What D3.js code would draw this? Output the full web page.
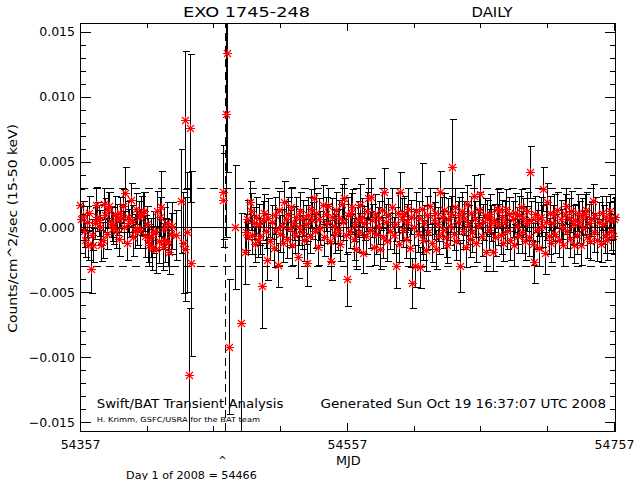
<!DOCTYPE html>
<html><head><meta charset="utf-8">
<script src="https://cdn.jsdelivr.net/npm/d3@7"></script>
<style>body{margin:0;background:#fff}svg{display:block}text{font-family:"DejaVu Sans";fill:#000}</style>
</head><body><svg id="c" width="640" height="480"></svg>
<script>
// ---- data: daily Swift/BAT rates (MJD, counts/cm^2/sec, 1-sigma error) ----
const mjd = [
54357,54358,54359,54360,54361,54362,54363,54364,54365,54366,
54367,54368,54369,54370,54371,54372,54373,54374,54375,54376,
54377,54378,54379,54380,54381,54382,54383,54384,54385,54386,
54387,54388,54389,54390,54391,54392,54393,54394,54395,54396,
54397,54398,54399,54400,54401,54402,54403,54404,54405,54406,
54407,54408,54409,54410,54411,54412,54413,54414,54415,54416,
54417,54418,54419,54420,54421,54422,54423,54424,54425,54426,
54429,
54433.0,54434.4,54435.5,54435.9,54437.2,54438.5,54439.2,54440.5,
54464.0,54464.4,54466.0,54467.3,54468.5,54473.0,54477.5,54480.5,
54481,54482,54483,54484,54485,54486,54487,54488,54489,54490,
54491,54492,54493,54494,54495,54496,54497,54498,54499,
54501,54502,54503,54504,54505,54506,54507,54508,54509,54510,
54511,54512,54513,54514,54515,54516,54517,54518,54519,54520,
54521,54522,54523,54524,54525,54526,54527,54528,54529,54530,
54531,54532,54533,54534,54535,54536,54537,54539,54540,
54541,54542,54543,54544,54545,54546,54547,54548,54549,54550,
54551,54552,54553,54554,54555,54556,54557,54558,54559,54560,
54561,54562,54563,54564,54565,54566,54567,54568,54569,54570,
54571,54572,54573,54574,54575,54576,54577,54578,54579,54580,
54581,54582,54583,54584,54585,54586,54587,54588,54589,
54591,54592,54593,54594,54595,54596,54597,54598,54599,54600,
54601,54602,54603,54604,54605,54606,54607,54608,54609,54610,
54611,54612,54613,54614,54615,54616,54617,54618,54619,
54621,54622,54623,54624,54625,54626,54627,54628,54629,54630,
54631,54632,54633,54634,54635,54636,54637,54638,54639,54640,
54641,54642,54643,54644,54645,54646,54647,54648,54649,54650,
54651,54652,54653,54654,54655,54656,54657,54658,54659,54660,
54661,54662,54663,54664,54665,54666,54667,54668,54669,54670,
54671,54672,54673,54674,54675,54676,54677,54678,54679,
54681,54682,54683,54684,54685,54686,54687,54688,54689,54690,
54691,54692,54693,54694,54695,54696,54697,54698,54699,54700,
54701,54702,54703,54704,54705,54706,54707,54708,54709,54710,
54711,54712,54713,54714,54716,54717,54718,54719,54720,
54721,54722,54723,54724,54725,54726,54727,54728,54729,54730,
54731,54732,54733,54734,54735,54736,54737,54738,54739,54740,
54741,54742,54743,54744,54746,54747,54748,54749,54750,
54751,54752,54753,54754,54755,54756,54757,54758
];
const rate = [
0.0017,0.0006,0.0009,-0.0003,-0.0010,0.0004,-0.0014,0.0011,-0.0032,-0.0006,
-0.0014,0.0003,0.0017,0.0008,0.0005,0.0000,-0.0014,-0.0010,0.0018,0.0009,
-0.0005,0.0013,0.0016,0.0004,0.0002,-0.0001,0.0010,-0.0003,0.0006,-0.0009,
0.0011,0.0007,0.0016,0.0000,0.0026,-0.0012,0.0008,0.0003,0.0021,0.0005,
-0.0008,-0.0003,0.0014,-0.0001,0.0008,-0.0002,0.0009,0.0011,0.0012,-0.0007,
0.0002,-0.0010,-0.0014,-0.0008,-0.0016,-0.0004,-0.0003,-0.0017,0.0012,-0.0011,
0.0008,0.0015,-0.0015,-0.0001,-0.0010,0.0003,-0.0012,-0.0019,-0.0005,0.0001,
-0.0006,
0.0020,-0.0012,0.0082,-0.0017,-0.0004,-0.0114,0.0076,-0.0028,
0.0027,0.0021,0.0087,0.0134,-0.0092,0.0000,-0.0074,-0.0019,
-0.0004,0.0006,-0.0008,0.0019,0.0012,-0.0006,0.0003,-0.0013,0.0008,-0.0010,
0.0002,-0.0007,-0.0045,0.0005,0.0011,-0.0003,-0.0025,0.0007,-0.0011,
0.0004,-0.0016,0.0009,-0.0002,-0.0029,0.0013,-0.0005,0.0001,-0.0012,0.0019,
0.0006,-0.0009,0.0010,-0.0001,0.0015,-0.0014,0.0003,-0.0006,0.0008,-0.0023,
0.0000,0.0012,-0.0004,0.0007,-0.0010,0.0002,-0.0028,0.0009,-0.0007,0.0014,
0.0005,0.0022,-0.0003,0.0011,-0.0015,0.0006,-0.0001,0.0017,-0.0008,
0.0010,0.0003,0.0016,-0.0011,-0.0026,0.0008,0.0001,-0.0005,0.0013,-0.0002,
0.0007,-0.0013,0.0018,0.0004,0.0022,-0.0006,-0.0040,0.0009,-0.0003,0.0011,
0.0015,-0.0009,0.0002,-0.0017,0.0006,-0.0004,0.0017,0.0008,-0.0020,0.0003,
-0.0007,0.0012,0.0022,-0.0002,0.0023,0.0005,-0.0015,0.0010,-0.0005,0.0001,
0.0007,-0.0017,0.0013,-0.0008,0.0027,0.0004,-0.0011,0.0009,-0.0003,
0.0015,-0.0006,0.0002,-0.0030,0.0011,-0.0013,0.0027,0.0006,-0.0002,0.0010,
-0.0009,0.0004,0.0014,-0.0016,0.0008,-0.0043,0.0000,-0.0030,0.0012,-0.0005,
0.0007,-0.0031,0.0014,-0.0010,0.0003,-0.0018,0.0009,-0.0004,0.0016,
-0.0012,0.0005,0.0011,-0.0017,0.0002,-0.0007,0.0027,0.0008,-0.0002,0.0013,
-0.0008,-0.0014,0.0006,0.0001,0.0010,0.0046,-0.0005,0.0015,-0.0011,0.0004,
0.0009,-0.0030,0.0012,-0.0003,0.0007,-0.0015,0.0018,0.0002,-0.0009,0.0011,
-0.0004,0.0024,0.0006,-0.0012,0.0001,0.0013,0.0025,-0.0007,0.0004,0.0009,
-0.0019,0.0007,-0.0002,0.0010,0.0003,-0.0019,0.0005,-0.0008,0.0014,0.0002,
0.0013,-0.0006,0.0008,-0.0012,0.0004,0.0014,-0.0003,0.0010,-0.0010,
0.0006,-0.0014,0.0011,0.0001,-0.0007,0.0009,0.0015,-0.0004,0.0007,-0.0011,
0.0003,0.0012,-0.0008,0.0042,0.0005,-0.0013,-0.0027,0.0010,-0.0002,0.0006,
-0.0016,0.0008,0.0001,0.0029,-0.0020,0.0004,0.0019,-0.0007,0.0011,-0.0012,
0.0003,0.0009,-0.0005,0.0013,-0.0010,0.0006,0.0000,-0.0014,0.0010,
0.0016,-0.0003,0.0007,-0.0009,0.0012,0.0002,-0.0014,0.0005,-0.0006,0.0011,
0.0004,-0.0014,0.0008,-0.0001,0.0010,0.0013,-0.0008,0.0003,-0.0011,0.0006,
0.0020,-0.0004,0.0009,-0.0010,0.0004,-0.0013,0.0011,0.0002,-0.0006,
0.0008,-0.0010,0.0005,0.0012,-0.0003,-0.0007,0.0006,0.0008
];
const err = [
0.0012,0.0010,0.0011,0.0012,0.0013,0.0012,0.0011,0.0013,0.0019,0.0012,
0.0013,0.0012,0.0014,0.0011,0.0012,0.0013,0.0012,0.0014,0.0012,0.0013,
0.0012,0.0014,0.0011,0.0012,0.0013,0.0012,0.0014,0.0013,0.0012,0.0013,
0.0012,0.0011,0.0013,0.0012,0.0020,0.0013,0.0012,0.0011,0.0013,0.0012,
0.0014,0.0013,0.0012,0.0013,0.0012,0.0014,0.0015,0.0016,0.0015,0.0016,
0.0014,0.0017,0.0016,0.0015,0.0017,0.0016,0.0015,0.0018,0.0016,0.0017,
0.0015,0.0028,0.0018,0.0016,0.0017,0.0016,0.0018,0.0017,0.0016,0.0018,
0.0019,
0.0040,0.0039,0.0053,0.0040,0.0046,0.0052,0.0057,0.0071,
0.0036,0.0036,0.0095,0.0092,0.0052,0.0048,0.0085,0.0025,
0.0014,0.0015,0.0013,0.0016,0.0014,0.0015,0.0012,0.0014,0.0015,0.0013,
0.0016,0.0014,0.0033,0.0015,0.0014,0.0013,0.0016,0.0015,0.0014,
0.0013,0.0015,0.0014,0.0016,0.0017,0.0015,0.0014,0.0013,0.0015,0.0016,
0.0014,0.0015,0.0013,0.0014,0.0016,0.0015,0.0013,0.0014,0.0015,0.0016,
0.0014,0.0015,0.0013,0.0014,0.0016,0.0015,0.0017,0.0014,0.0013,0.0015,
0.0014,0.0016,0.0013,0.0015,0.0014,0.0016,0.0013,0.0015,0.0014,
0.0013,0.0015,0.0014,0.0016,0.0015,0.0014,0.0013,0.0015,0.0014,0.0016,
0.0014,0.0013,0.0015,0.0014,0.0016,0.0015,0.0021,0.0014,0.0013,0.0015,
0.0014,0.0016,0.0013,0.0015,0.0014,0.0015,0.0016,0.0014,0.0015,0.0013,
0.0014,0.0015,0.0016,0.0014,0.0015,0.0013,0.0014,0.0015,0.0016,0.0014,
0.0013,0.0015,0.0014,0.0016,0.0018,0.0014,0.0015,0.0013,0.0014,
0.0015,0.0014,0.0013,0.0017,0.0015,0.0014,0.0015,0.0016,0.0013,0.0014,
0.0015,0.0014,0.0016,0.0015,0.0013,0.0019,0.0014,0.0016,0.0015,0.0014,
0.0013,0.0016,0.0035,0.0015,0.0014,0.0016,0.0015,0.0013,0.0014,
0.0015,0.0014,0.0016,0.0015,0.0013,0.0014,0.0016,0.0015,0.0014,0.0013,
0.0015,0.0014,0.0016,0.0015,0.0014,0.0037,0.0013,0.0015,0.0014,0.0016,
0.0014,0.0020,0.0015,0.0014,0.0013,0.0016,0.0014,0.0015,0.0014,0.0013,
0.0015,0.0016,0.0014,0.0015,0.0013,0.0014,0.0016,0.0015,0.0014,0.0013,
0.0015,0.0014,0.0016,0.0015,0.0014,0.0015,0.0013,0.0014,0.0015,0.0016,
0.0014,0.0015,0.0013,0.0014,0.0016,0.0015,0.0014,0.0013,0.0015,
0.0014,0.0016,0.0015,0.0014,0.0013,0.0015,0.0014,0.0016,0.0015,0.0014,
0.0013,0.0015,0.0014,0.0020,0.0015,0.0016,0.0016,0.0014,0.0015,0.0013,
0.0014,0.0015,0.0016,0.0017,0.0016,0.0014,0.0015,0.0014,0.0013,0.0015,
0.0014,0.0016,0.0015,0.0014,0.0013,0.0015,0.0014,0.0016,0.0015,
0.0014,0.0013,0.0015,0.0014,0.0016,0.0015,0.0014,0.0013,0.0015,0.0014,
0.0016,0.0015,0.0014,0.0013,0.0015,0.0014,0.0016,0.0015,0.0014,0.0013,
0.0013,0.0015,0.0014,0.0016,0.0015,0.0014,0.0013,0.0015,0.0014,
0.0016,0.0015,0.0014,0.0013,0.0015,0.0014,0.0016,0.0015
];
const xMajorTicks = [54357, 54557, 54757];
const xMinorTicks = [54407, 54457, 54507, 54607, 54657, 54707];
const yMajorTicks = [-0.015, -0.010, -0.005, 0, 0.005, 0.010, 0.015];
const yMinorTicks = [-0.014,-0.013,-0.012,-0.011,-0.009,-0.008,-0.007,-0.006,-0.004,-0.003,-0.002,-0.001,
                     0.001,0.002,0.003,0.004,0.006,0.007,0.008,0.009,0.011,0.012,0.013,0.014];
const thresholds = [-0.003, 0.003];
const day1of2008 = 54466;
const sourceName = "EXO 1745-248";
const cadence = "DAILY";

// ---- layout ----
const L = 80, R = 616, T = 23, B = 431;
const svg = d3.select("#c");
svg.append("rect").attr("width",640).attr("height",480).attr("fill","#fff");

const x = d3.scaleLinear().domain([54357, 54758.5]).range([L, R]);
const y = d3.scaleLinear().domain([-0.01569, 0.01569]).range([B, T]);

svg.append("defs").append("clipPath").attr("id","pc")
  .append("rect").attr("x",L).attr("y",T).attr("width",R-L).attr("height",B-T);

const plot = svg.append("g").attr("clip-path","url(#pc)");
const px = v => Math.round(v) + 0.5;

// reference lines
plot.append("line").attr("x1",L).attr("x2",R).attr("y1",px(y(0))).attr("y2",px(y(0)))
  .attr("stroke","#000").attr("shape-rendering","crispEdges");
plot.selectAll("line.thr").data(thresholds).join("line").attr("class","thr")
  .attr("x1",L).attr("x2",R).attr("y1",d=>px(y(d))).attr("y2",d=>px(y(d)))
  .attr("stroke","#000").attr("stroke-dasharray","8,5").attr("shape-rendering","crispEdges");
plot.append("line").attr("x1",px(x(day1of2008))-1).attr("x2",px(x(day1of2008))-1)
  .attr("y1",B).attr("y2",T)
  .attr("stroke","#000").attr("stroke-dasharray","8,5").attr("shape-rendering","crispEdges");

const pts = mjd.map((m,i)=>({m, v: rate[i], e: err[i]}));

// error bars
const eb = plot.append("g").attr("stroke","#000").attr("shape-rendering","crispEdges");
pts.forEach(p=>{
  const cx = px(x(p.m)), yt = px(y(p.v+p.e)), yb = px(y(p.v-p.e));
  eb.append("line").attr("x1",cx).attr("x2",cx).attr("y1",yt).attr("y2",yb);
  eb.append("line").attr("x1",cx-3).attr("x2",cx+4).attr("y1",yt).attr("y2",yt);
  eb.append("line").attr("x1",cx-3).attr("x2",cx+4).attr("y1",yb).attr("y2",yb);
});

// asterisks
const star = "M-4.5,0H4.5M0,-4.5V4.5M-3.5,-3.5L3.5,3.5M-3.5,3.5L3.5,-3.5";
const sg = svg.append("g");
sg.selectAll("path").data(pts).join("path")
  .attr("transform",d=>`translate(${px(x(d.m))},${px(y(d.v))})`)
  .attr("d",star).attr("stroke","#ff0000").attr("stroke-width",1.1).attr("fill","none");
sg.selectAll("circle").data(pts).join("circle")
  .attr("cx",d=>px(x(d.m))).attr("cy",d=>px(y(d.v))).attr("r",1.5).attr("fill","#ff0000");

// axes
function style(g){
  g.select(".domain").remove();
  g.attr("font-family","DejaVu Sans").attr("font-size",12.5);
  g.selectAll("line").attr("stroke","#000").attr("shape-rendering","crispEdges");
  g.selectAll("text").attr("fill","#000");
}
const fmt = d3.format(".3f");
svg.append("g").attr("transform",`translate(${L},0)`)
  .call(d3.axisLeft(y).tickValues(yMajorTicks).tickSizeInner(-11).tickSizeOuter(0).tickPadding(5).tickFormat(fmt)).call(style);
svg.append("g").attr("transform",`translate(${L},0)`)
  .call(d3.axisLeft(y).tickValues(yMinorTicks).tickSizeInner(-6).tickSizeOuter(0).tickFormat("")).call(style);
svg.append("g").attr("transform",`translate(${R},0)`)
  .call(d3.axisRight(y).tickValues(yMajorTicks).tickSizeInner(-11).tickSizeOuter(0).tickFormat("")).call(style);
svg.append("g").attr("transform",`translate(${R},0)`)
  .call(d3.axisRight(y).tickValues(yMinorTicks).tickSizeInner(-6).tickSizeOuter(0).tickFormat("")).call(style);
svg.append("g").attr("transform",`translate(0,${B})`)
  .call(d3.axisBottom(x).tickValues(xMajorTicks).tickSizeInner(-8).tickSizeOuter(0).tickPadding(9).tickFormat(d3.format("d"))).call(style);
svg.append("g").attr("transform",`translate(0,${B})`)
  .call(d3.axisBottom(x).tickValues(xMinorTicks).tickSizeInner(-5).tickSizeOuter(0).tickFormat("")).call(style);
svg.append("g").attr("transform",`translate(0,${T})`)
  .call(d3.axisTop(x).tickValues(xMajorTicks).tickSizeInner(-8).tickSizeOuter(0).tickFormat("")).call(style);
svg.append("g").attr("transform",`translate(0,${T})`)
  .call(d3.axisTop(x).tickValues(xMinorTicks).tickSizeInner(-5).tickSizeOuter(0).tickFormat("")).call(style);

svg.append("rect").attr("x",L+0.5).attr("y",T+0.5).attr("width",R-L-1).attr("height",B-T)
  .attr("fill","none").attr("stroke","#000").attr("shape-rendering","crispEdges");

// texts
function txt(s, xx, yy, size, anchor, len){
  const t = svg.append("text").attr("x",xx).attr("y",yy).attr("font-size",size)
    .attr("text-anchor",anchor).text(s);
  if (len) t.attr("textLength",len).attr("lengthAdjust","spacingAndGlyphs");
  return t;
}
txt(sourceName, 246.5, 17, 13.5, "middle", 127);
txt(cadence, 492, 17, 13.5, "middle", 41);
txt("MJD", 348.3, 465, 12.5, "middle", 24.7);
txt("^", 222.5, 464, 10, "middle");
txt("Day 1 of 2008 = 54466", 191.4, 479, 10.5, "middle", 130.7);
txt("Swift/BAT Transient Analysis", 96.7, 407.7, 12.5, "start", 186.7);
txt("H. Krimm, GSFC/USRA for the BAT team", 96.7, 421.7, 7, "start", 163.3);
txt("Generated Sun Oct 19 16:37:07 UTC 2008", 320.5, 407.7, 12.5, "start", 285.5);
svg.append("text").attr("transform","translate(17,228.4) rotate(-90)")
  .attr("font-size",12.5).attr("text-anchor","middle")
  .attr("textLength",208.7).attr("lengthAdjust","spacingAndGlyphs")
  .text("Counts/cm^2/sec (15-50 keV)");
</script></body></html>
